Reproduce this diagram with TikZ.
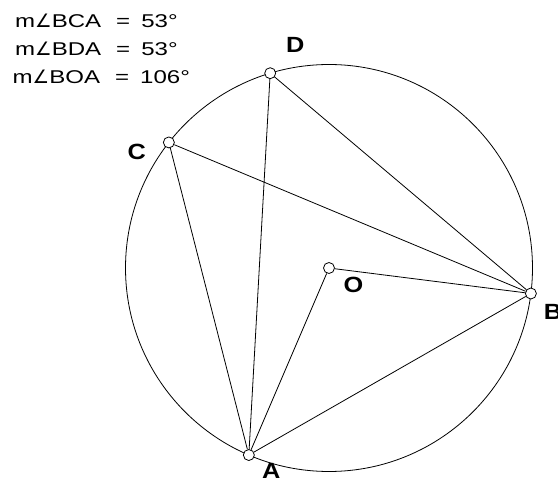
\documentclass[tikz,border=0pt]{standalone}
\usepackage{fontspec}
\setmainfont{Liberation Sans}
\newfontfamily\measfont[FakeStretch=1.3]{Liberation Sans}
\newfontfamily\labfont[FakeStretch=1.15]{Liberation Sans}
\newfontfamily\angfont{DejaVu Sans}
\usetikzlibrary{positioning}
\newcommand{\angsign}{{\angfont ∠}}
\newcommand{\measeq}{\hspace{15pt}=\hspace{11pt}}
\tikzset{
    vertex/.style={circle, draw, fill=white, inner sep=0pt, minimum size=11pt, line width=0.8pt},
    ptlabel/.style={font=\labfont\bfseries\fontsize{22}{24}\selectfont, inner sep=0pt},
    measure/.style={font=\measfont\fontsize{18.5}{20}\selectfont, inner sep=0pt, anchor=base west},
    chord/.style={line width=0.8pt}
}
\begin{document}
\begin{tikzpicture}
    \useasboundingbox (0,0) rectangle (558pt,-481pt);
    \coordinate (ctr) at (329pt,-268pt);
    \draw[chord] (ctr) circle[radius=203.5pt];
    % points on the circle
    \node[vertex] (O) at (ctr) {};
    \node[vertex] (A) at ([shift={(-113.2:203.5pt)}]ctr) {};
    \node[vertex] (B) at ([shift={(-7.2:203.5pt)}]ctr) {};
    \node[vertex] (C) at ([shift={(141.9:203.5pt)}]ctr) {};
    \node[vertex] (D) at ([shift={(106.8:203.5pt)}]ctr) {};
    \draw[chord] (C) -- (A);
    \draw[chord] (C) -- (B);
    \draw[chord] (D) -- (A);
    \draw[chord] (D) -- (B);
    \draw[chord] (O) -- (A);
    \draw[chord] (O) -- (B);
    \draw[chord] (A) -- (B);
    % labels
    \node[ptlabel] (Alabel) at ([shift={(22.5pt,-16pt)}]A.center) {A};
    \node[ptlabel] (Blabel) at ([shift={(22pt,-18pt)}]B.center) {B};
    \node[ptlabel] (Clabel) at ([shift={(-32pt,-9pt)}]C.center) {C};
    \node[ptlabel] (Dlabel) at ([shift={(25pt,28pt)}]D.center) {D};
    \node[ptlabel] (Olabel) at ([shift={(24.5pt,-17pt)}]O.center) {O};
    % measurements
    \node[measure] (mBCA) at (15pt,-27.3pt) {m\angsign BCA\measeq 53°};
    \node[measure] (mBDA) at (15pt,-55.5pt) {m\angsign BDA\measeq 53°};
    \node[measure] (mBOA) at (12.5pt,-83.8pt) {m\angsign BOA\measeq 106°};
\end{tikzpicture}
\end{document}
